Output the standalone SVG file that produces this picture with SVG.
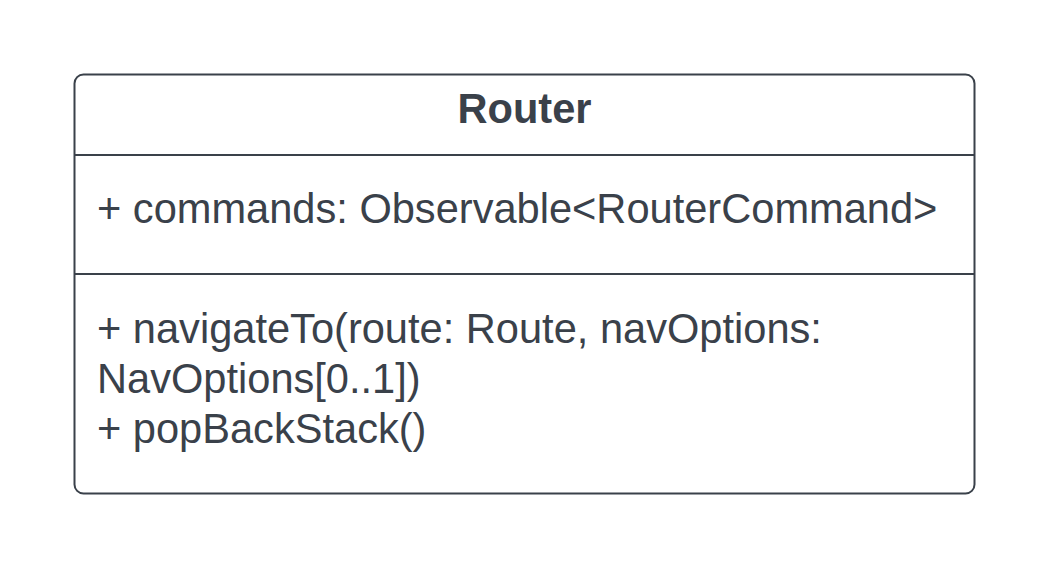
<svg xmlns="http://www.w3.org/2000/svg" width="1050" height="570" viewBox="0 0 1050 570">
<style>
.box{fill:#ffffff;stroke:#3a414a;stroke-width:2}
.div{stroke:#3a414a;stroke-width:2}
.t{font-family:"Liberation Sans",Arial,sans-serif;font-size:41.6px;fill:#3a414a}
.b{font-weight:bold}
</style>
<rect width="1050" height="570" fill="#ffffff"/>
<g id="router">
<rect class="box" x="74.5" y="74.5" width="900" height="419" rx="9" ry="9"/>
<line class="div" x1="74.5" y1="155" x2="974.5" y2="155"/>
<line class="div" x1="74.5" y1="274" x2="974.5" y2="274"/>
<text class="t b" x="524.5" y="123" text-anchor="middle">Router</text>
<text class="t" x="97" y="223">+ commands: Observable&lt;RouterCommand&gt;</text>
<text class="t" x="97" y="343">+ navigateTo(route: Route, navOptions:</text>
<text class="t" x="97" y="393">NavOptions[0..1])</text>
<text class="t" x="97" y="443">+ popBackStack()</text>
</g>
<g id="connectors"></g>
</svg>
